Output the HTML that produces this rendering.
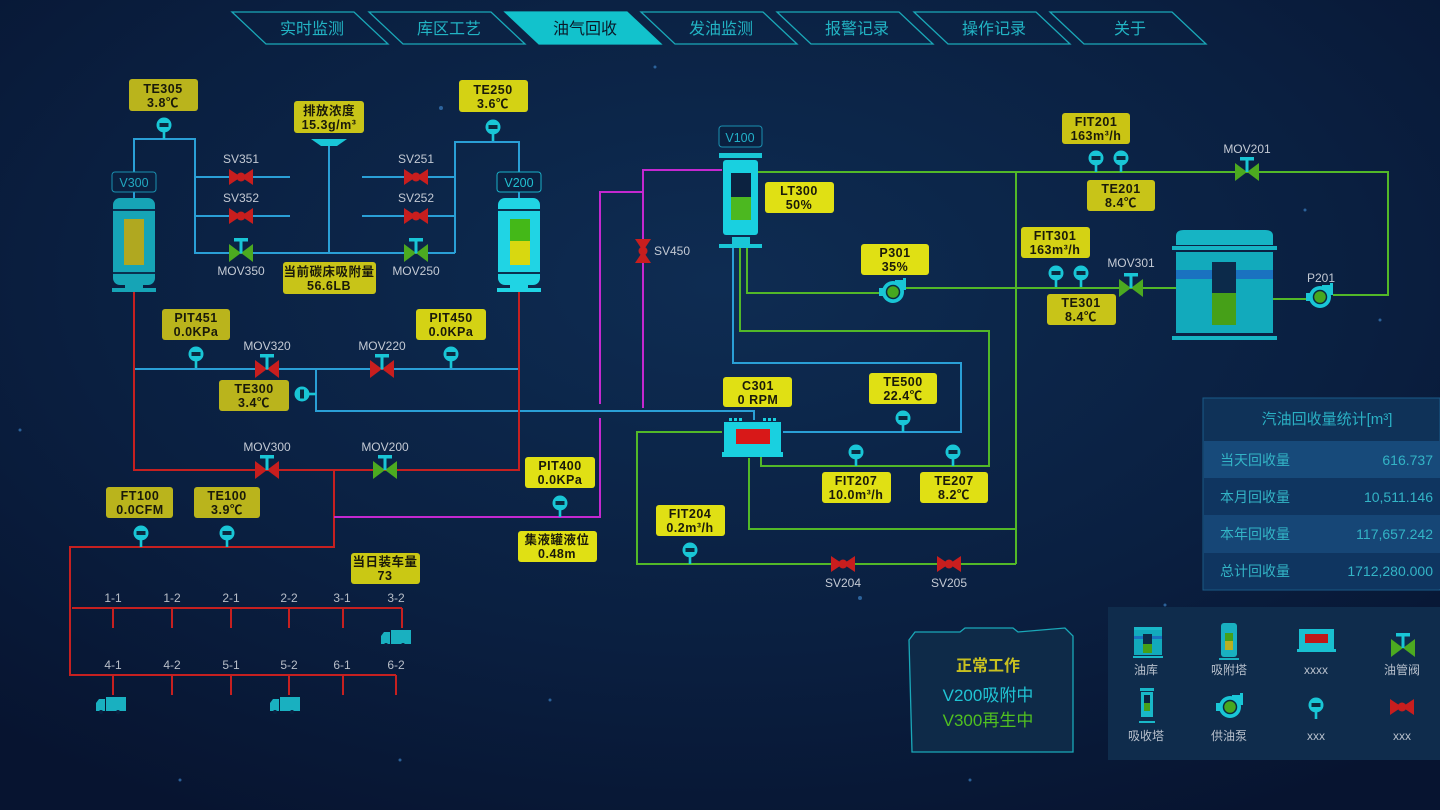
<!DOCTYPE html>
<html><head><meta charset="utf-8">
<style>
html,body{margin:0;padding:0;background:#081632;}
svg{display:block;}
text{font-family:"Liberation Sans","Noto Sans CJK SC",sans-serif;}
.lb{font-size:12.5px;font-weight:bold;fill:#1a1a0a;text-anchor:middle;letter-spacing:.5px}
.vl{font-size:12px;fill:#c4cad4;text-anchor:middle}
.nav{font-size:16px;fill:#22b4c4;text-anchor:middle}
.st{font-size:14px;fill:#33b4c6}
</style></head><body>
<svg width="1440" height="810" viewBox="0 0 1440 810" xmlns="http://www.w3.org/2000/svg">
<defs>
<radialGradient id="bg" cx="0.5" cy="0.35" r="0.75">
<stop offset="0" stop-color="#0e2c52"/><stop offset="0.6" stop-color="#0a1f40"/><stop offset="1" stop-color="#071430"/></radialGradient>
<symbol id="g" overflow="visible"><circle r="7.5" fill="#19c6d6"/><rect x="-4.5" y="-2" width="9" height="4" fill="#0a2a40"/><rect x="-1.3" y="6" width="2.6" height="8" fill="#19c6d6"/></symbol>
<symbol id="mr" overflow="visible"><polygon points="-12,-9 0,0 -12,9" fill="#c81e1e"/><polygon points="12,-9 0,0 12,9" fill="#c81e1e"/><rect x="-1.5" y="-13" width="3" height="13" fill="#19c6d6"/><rect x="-7" y="-15" width="14" height="3.5" fill="#19c6d6"/></symbol>
<symbol id="mg" overflow="visible"><polygon points="-12,-9 0,0 -12,9" fill="#4caa20"/><polygon points="12,-9 0,0 12,9" fill="#4caa20"/><rect x="-1.5" y="-13" width="3" height="13" fill="#19c6d6"/><rect x="-7" y="-15" width="14" height="3.5" fill="#19c6d6"/></symbol>
<symbol id="sv" overflow="visible"><polygon points="-12,-8 -3,-2 -3,2 -12,8" fill="#c81e1e"/><polygon points="12,-8 3,-2 3,2 12,8" fill="#c81e1e"/><circle r="4.5" fill="#c81e1e"/></symbol>
<symbol id="pump" overflow="visible"><rect x="2" y="-12" width="10" height="8" fill="#19c6d6"/><rect x="10" y="-14" width="3" height="12" fill="#19c6d6"/><circle r="11" fill="#19c6d6"/><rect x="-14" y="-4" width="4" height="8" fill="#19c6d6"/><circle r="6.5" fill="#46a820" stroke="#0a2a40" stroke-width="1.5"/></symbol>
<symbol id="truck" overflow="visible"><rect x="10" y="0" width="20" height="14" fill="#19b0c0"/><path d="M0,14 L0,6 L3,2 L9,2 L9,14 Z" fill="#19b0c0"/><circle cx="5" cy="15" r="2" fill="#0a2040"/><circle cx="22" cy="15" r="2" fill="#0a2040"/></symbol>
</defs>
<rect width="1440" height="810" fill="url(#bg)"/>
<g fill="#3a7fc0" opacity="0.7">
<circle cx="441" cy="108" r="2"/><circle cx="655" cy="67" r="1.5"/><circle cx="1380" cy="320" r="1.5"/><circle cx="1165" cy="605" r="1.5"/><circle cx="860" cy="598" r="2"/><circle cx="1183" cy="653" r="2.5"/><circle cx="400" cy="760" r="1.5"/><circle cx="970" cy="780" r="1.5"/><circle cx="550" cy="700" r="1.5"/><circle cx="1305" cy="210" r="1.5"/><circle cx="180" cy="780" r="1.5"/><circle cx="20" cy="430" r="1.5"/><circle cx="1000" cy="700" r="1.5"/></g>

<!-- NAV -->
<g stroke="#1aa8b8" stroke-width="1.3" fill="none">
<polygon points="232,12 354,12 388,44 266,44"/>
<polygon points="369,12 491,12 525,44 403,44"/>
<polygon points="505,12 627,12 661,44 539,44" fill="#12c2cc" stroke="#12c2cc"/>
<polygon points="641,12 763,12 797,44 675,44"/>
<polygon points="777,12 899,12 933,44 811,44"/>
<polygon points="914,12 1036,12 1070,44 948,44"/>
<polygon points="1050,12 1172,12 1206,44 1084,44"/>
</g>
<text class="nav" x="312" y="34">实时监测</text>
<text class="nav" x="449" y="34">库区工艺</text>
<text class="nav" x="585" y="34" style="fill:#0a1a2a">油气回收</text>
<text class="nav" x="721" y="34">发油监测</text>
<text class="nav" x="857" y="34">报警记录</text>
<text class="nav" x="994" y="34">操作记录</text>
<text class="nav" x="1130" y="34">关于</text>

<!-- BLUE PIPES -->
<g stroke="#2a9fd6" stroke-width="2" fill="none">
<polyline points="134,198 134,139 195,139 195,253 455,253"/>
<line x1="195" y1="177" x2="290" y2="177"/><line x1="195" y1="216" x2="290" y2="216"/>
<line x1="329" y1="146" x2="329" y2="253"/>
<line x1="362" y1="177" x2="455" y2="177"/><line x1="362" y1="216" x2="455" y2="216"/>
<polyline points="455,253 455,142 519,142 519,198"/>
<line x1="134" y1="369" x2="519" y2="369"/>
<polyline points="316,369 316,411 754,411 754,420"/>
<polyline points="733,248 733,363 961,363 961,432 783,432"/>
</g>
<!-- RED -->
<g stroke="#c62020" stroke-width="2" fill="none">
<polyline points="134,292 134,470 519,470 519,292"/>
<polyline points="334,470 334,547 70,547 70,675 396,675"/>
<line x1="72" y1="608" x2="402" y2="608"/>
<line x1="402" y1="608" x2="402" y2="628"/>
<line x1="113" y1="608" x2="113" y2="628"/><line x1="172" y1="608" x2="172" y2="628"/><line x1="231" y1="608" x2="231" y2="628"/><line x1="289" y1="608" x2="289" y2="628"/><line x1="343" y1="608" x2="343" y2="628"/>
<line x1="113" y1="675" x2="113" y2="695"/><line x1="172" y1="675" x2="172" y2="695"/><line x1="231" y1="675" x2="231" y2="695"/><line x1="289" y1="675" x2="289" y2="695"/><line x1="343" y1="675" x2="343" y2="695"/><line x1="396" y1="675" x2="396" y2="695"/>
</g>
<!-- MAGENTA -->
<g stroke="#c428d0" stroke-width="2" fill="none">
<polyline points="722,170 643,170 643,408"/>
<polyline points="643,192 600,192 600,404"/>
<polyline points="600,418 600,517 334,517"/>
</g>
<!-- GREEN -->
<g stroke="#52b828" stroke-width="2" fill="none">
<polyline points="758,172 1388,172 1388,295 1333,295"/>
<line x1="1016" y1="172" x2="1016" y2="564"/>
<polyline points="747,248 747,293 880,293"/>
<line x1="905" y1="288" x2="1176" y2="288"/>
<line x1="1273" y1="299" x2="1306" y2="299"/>
<polyline points="740,248 740,331 989,331 989,466 761,466 761,455"/>
<polyline points="749,458 749,529 1016,529"/>
<polyline points="722,432 637,432 637,564 1016,564"/>
</g>

<!-- V300 -->
<rect x="112" y="172" width="44" height="20" rx="3" fill="#0a2040" stroke="#1a90b0"/>
<text x="134" y="187" font-size="12.5" fill="#22a8c0" text-anchor="middle">V300</text>
<rect x="113" y="198" width="42" height="87" rx="7" fill="#16a4b6"/>
<rect x="113" y="209" width="42" height="2" fill="#0a3050"/><rect x="113" y="272" width="42" height="2" fill="#0a3050"/>
<rect x="124" y="219" width="20" height="46" fill="#b0a820"/>
<rect x="125" y="285" width="18" height="4" fill="#16a4b6"/><rect x="112" y="288" width="44" height="4" fill="#16a4b6"/>
<!-- V200 -->
<rect x="497" y="172" width="44" height="20" rx="3" fill="#0a2040" stroke="#1ab0c8"/>
<text x="519" y="187" font-size="12.5" fill="#22c0d0" text-anchor="middle">V200</text>
<rect x="498" y="198" width="42" height="87" rx="7" fill="#20d4e4"/>
<rect x="498" y="209" width="42" height="2" fill="#0a3050"/><rect x="498" y="272" width="42" height="2" fill="#0a3050"/>
<rect x="510" y="219" width="20" height="22" fill="#44b818"/><rect x="510" y="241" width="20" height="24" fill="#d8d810"/>
<rect x="510" y="285" width="18" height="4" fill="#20d4e4"/><rect x="497" y="288" width="44" height="4" fill="#20d4e4"/>
<!-- funnel -->
<polygon points="311,139 347,139 337,146 321,146" fill="#19c6d6"/>

<!-- V100 -->
<rect x="719" y="126" width="43" height="21" rx="3" fill="#0a2040" stroke="#1a90b0"/>
<text x="740" y="142" font-size="12.5" fill="#22b0c8" text-anchor="middle">V100</text>
<rect x="719" y="153" width="43" height="5" fill="#19c6d6"/>
<rect x="723" y="160" width="35" height="75" rx="3" fill="#19d0e0"/>
<rect x="731" y="173" width="20" height="47" fill="#0c2240"/><rect x="731" y="197" width="20" height="23" fill="#4cb820"/>
<rect x="732" y="237" width="18" height="8" fill="#19c6d6"/><rect x="719" y="244" width="43" height="4" fill="#19c6d6"/>

<!-- C301 -->
<g fill="#19d0e0">
<rect x="729" y="418" width="3" height="3"/><rect x="734" y="418" width="3" height="3"/><rect x="739" y="418" width="3" height="3"/>
<rect x="763" y="418" width="3" height="3"/><rect x="768" y="418" width="3" height="3"/><rect x="773" y="418" width="3" height="3"/>
<rect x="724" y="422" width="57" height="30"/><rect x="722" y="452" width="61" height="5"/></g>
<rect x="736" y="429" width="34" height="15" fill="#d81818"/>

<!-- Right tank -->
<path d="M1176,245 L1176,236 Q1176,230 1184,230 L1265,230 Q1273,230 1273,236 L1273,245 Z" fill="#16b4c4"/>
<rect x="1172" y="246" width="105" height="4" fill="#16b4c4"/>
<rect x="1176" y="252" width="97" height="81" fill="#12aabc"/>
<rect x="1176" y="270" width="97" height="9" fill="#1a72c0"/>
<rect x="1212" y="262" width="24" height="63" fill="#0c2a4a"/><rect x="1212" y="293" width="24" height="32" fill="#46a018"/>
<rect x="1172" y="336" width="105" height="4" fill="#16b4c4"/>

<!-- pumps -->
<use href="#pump" x="893" y="292"/>
<use href="#pump" x="1320" y="297"/>
<text class="vl" x="1321" y="282">P201</text>

<!-- valves -->
<use href="#sv" x="241" y="177"/><use href="#sv" x="241" y="216"/>
<use href="#sv" x="416" y="177"/><use href="#sv" x="416" y="216"/>
<use href="#mg" x="241" y="253"/><use href="#mg" x="416" y="253"/>
<use href="#mr" x="267" y="369"/><use href="#mr" x="382" y="369"/>
<use href="#mr" x="267" y="470"/><use href="#mg" x="385" y="470"/>
<use href="#sv" x="843" y="564"/><use href="#sv" x="949" y="564"/>
<use href="#mg" x="1247" y="172"/><use href="#mg" x="1131" y="288"/>
<g transform="translate(643,251) rotate(90)"><use href="#sv"/></g>
<text class="vl" x="241" y="163">SV351</text><text class="vl" x="241" y="202">SV352</text>
<text class="vl" x="416" y="163">SV251</text><text class="vl" x="416" y="202">SV252</text>
<text class="vl" x="241" y="275">MOV350</text><text class="vl" x="416" y="275">MOV250</text>
<text class="vl" x="267" y="350">MOV320</text><text class="vl" x="382" y="350">MOV220</text>
<text class="vl" x="267" y="451">MOV300</text><text class="vl" x="385" y="451">MOV200</text>
<text class="vl" x="672" y="255">SV450</text>
<text class="vl" x="843" y="587">SV204</text><text class="vl" x="949" y="587">SV205</text>
<text class="vl" x="1247" y="153">MOV201</text><text class="vl" x="1131" y="267">MOV301</text>

<!-- gauges -->
<use href="#g" x="164" y="125"/><use href="#g" x="493" y="127"/>
<use href="#g" x="196" y="354"/><use href="#g" x="451" y="354"/>
<g transform="translate(302,394) rotate(-90)"><use href="#g"/></g>
<use href="#g" x="141" y="533"/><use href="#g" x="227" y="533"/>
<use href="#g" x="560" y="503"/>
<use href="#g" x="903" y="418"/><use href="#g" x="856" y="452"/><use href="#g" x="953" y="452"/>
<use href="#g" x="690" y="550"/>
<use href="#g" x="1096" y="158"/><use href="#g" x="1121" y="158"/>
<use href="#g" x="1056" y="273"/><use href="#g" x="1081" y="273"/>

<!-- trucks -->
<use href="#truck" x="381" y="630"/><use href="#truck" x="96" y="697"/><use href="#truck" x="270" y="697"/>

<!-- rack labels -->
<g class="vl" style="fill:#b8bec8">
<text x="113" y="602">1-1</text><text x="172" y="602">1-2</text><text x="231" y="602">2-1</text><text x="289" y="602">2-2</text><text x="342" y="602">3-1</text><text x="396" y="602">3-2</text>
<text x="113" y="669">4-1</text><text x="172" y="669">4-2</text><text x="231" y="669">5-1</text><text x="289" y="669">5-2</text><text x="342" y="669">6-1</text><text x="396" y="669">6-2</text></g>

<!-- LABEL BOXES -->
<g>
<rect x="129" y="79" width="69" height="32" rx="3" fill="#bab41c"/><text class="lb" x="163" y="93">TE305</text><text class="lb" x="163" y="107">3.8℃</text>
<rect x="459" y="80" width="69" height="32" rx="3" fill="#d4d214"/><text class="lb" x="493" y="94">TE250</text><text class="lb" x="493" y="108">3.6℃</text>
<rect x="294" y="101" width="70" height="32" rx="3" fill="#c8c418"/><text class="lb" x="329" y="115">排放浓度</text><text class="lb" x="329" y="129">15.3g/m³</text>
<rect x="283" y="262" width="93" height="32" rx="3" fill="#c8c418"/><text class="lb" x="329" y="276">当前碳床吸附量</text><text class="lb" x="329" y="290">56.6LB</text>
<rect x="162" y="309" width="68" height="31" rx="3" fill="#bab41c"/><text class="lb" x="196" y="322">PIT451</text><text class="lb" x="196" y="336">0.0KPa</text>
<rect x="416" y="309" width="70" height="31" rx="3" fill="#d4d214"/><text class="lb" x="451" y="322">PIT450</text><text class="lb" x="451" y="336">0.0KPa</text>
<rect x="219" y="380" width="70" height="31" rx="3" fill="#bab41c"/><text class="lb" x="254" y="393">TE300</text><text class="lb" x="254" y="407">3.4℃</text>
<rect x="106" y="487" width="67" height="31" rx="3" fill="#bab41c"/><text class="lb" x="140" y="500">FT100</text><text class="lb" x="140" y="514">0.0CFM</text>
<rect x="194" y="487" width="66" height="31" rx="3" fill="#bab41c"/><text class="lb" x="227" y="500">TE100</text><text class="lb" x="227" y="514">3.9℃</text>
<rect x="351" y="553" width="69" height="31" rx="3" fill="#cac814"/><text class="lb" x="385" y="566">当日装车量</text><text class="lb" x="385" y="580">73</text>
<rect x="525" y="457" width="70" height="31" rx="3" fill="#e0e014"/><text class="lb" x="560" y="470">PIT400</text><text class="lb" x="560" y="484">0.0KPa</text>
<rect x="518" y="531" width="79" height="31" rx="3" fill="#e0e014"/><text class="lb" x="557" y="544">集液罐液位</text><text class="lb" x="557" y="558">0.48m</text>
<rect x="765" y="182" width="69" height="31" rx="3" fill="#e0e014"/><text class="lb" x="799" y="195">LT300</text><text class="lb" x="799" y="209">50%</text>
<rect x="861" y="244" width="68" height="31" rx="3" fill="#e0e014"/><text class="lb" x="895" y="257">P301</text><text class="lb" x="895" y="271">35%</text>
<rect x="723" y="377" width="69" height="30" rx="3" fill="#e0e014"/><text class="lb" x="758" y="390">C301</text><text class="lb" x="758" y="404">0 RPM</text>
<rect x="869" y="373" width="68" height="31" rx="3" fill="#e0e014"/><text class="lb" x="903" y="386">TE500</text><text class="lb" x="903" y="400">22.4℃</text>
<rect x="822" y="472" width="69" height="31" rx="3" fill="#e0e014"/><text class="lb" x="856" y="485">FIT207</text><text class="lb" x="856" y="499">10.0m³/h</text>
<rect x="920" y="472" width="68" height="31" rx="3" fill="#e0e014"/><text class="lb" x="954" y="485">TE207</text><text class="lb" x="954" y="499">8.2℃</text>
<rect x="656" y="505" width="69" height="31" rx="3" fill="#e0e014"/><text class="lb" x="690" y="518">FIT204</text><text class="lb" x="690" y="532">0.2m³/h</text>
<rect x="1062" y="113" width="68" height="31" rx="3" fill="#cac414"/><text class="lb" x="1096" y="126">FIT201</text><text class="lb" x="1096" y="140">163m³/h</text>
<rect x="1087" y="180" width="68" height="31" rx="3" fill="#c8c418"/><text class="lb" x="1121" y="193">TE201</text><text class="lb" x="1121" y="207">8.4℃</text>
<rect x="1021" y="227" width="69" height="31" rx="3" fill="#d4d214"/><text class="lb" x="1055" y="240">FIT301</text><text class="lb" x="1055" y="254">163m³/h</text>
<rect x="1047" y="294" width="69" height="31" rx="3" fill="#c8c418"/><text class="lb" x="1081" y="307">TE301</text><text class="lb" x="1081" y="321">8.4℃</text>
</g>

<!-- STATUS BOX -->
<path d="M915,632 L960,632 L965,628 L1013,628 L1018,632 L1065,628 L1073,636 L1073,752 L912,752 L909,640 Z" fill="#0e2a48" stroke="#1aa8b8" stroke-width="1.3"/>
<text x="988" y="671" font-size="16" font-weight="bold" fill="#c8c020" text-anchor="middle">正常工作</text>
<text x="988" y="701" font-size="17" fill="#20c4d4" text-anchor="middle">V200吸附中</text>
<text x="988" y="726" font-size="17" fill="#50c020" text-anchor="middle">V300再生中</text>

<!-- STATS PANEL -->
<rect x="1203" y="398" width="237" height="192" fill="#0f3258" stroke="#1a5a88"/>
<rect x="1204" y="441" width="236" height="37" fill="#174a7a"/>
<rect x="1204" y="478" width="236" height="37" fill="#0f3560"/>
<rect x="1204" y="515" width="236" height="38" fill="#164676"/>
<rect x="1204" y="553" width="236" height="36" fill="#0f3560"/>
<text x="1327" y="424" font-size="15" fill="#2ab0c4" text-anchor="middle">汽油回收量统计[m³]</text>
<text class="st" x="1220" y="465">当天回收量</text><text class="st" x="1433" y="465" text-anchor="end" font-size="15">616.737</text>
<text class="st" x="1220" y="502">本月回收量</text><text class="st" x="1433" y="502" text-anchor="end" font-size="15">10,511.146</text>
<text class="st" x="1220" y="539">本年回收量</text><text class="st" x="1433" y="539" text-anchor="end" font-size="15">117,657.242</text>
<text class="st" x="1220" y="576">总计回收量</text><text class="st" x="1433" y="576" text-anchor="end" font-size="15">1712,280.000</text>

<!-- LEGEND -->
<rect x="1108" y="607" width="332" height="153" fill="#0f2c4c"/>
<g>
<rect x="1134" y="627" width="28" height="4" fill="#19b8c8"/><rect x="1134" y="630" width="28" height="25" fill="#12aabc"/><rect x="1134" y="636" width="28" height="3" fill="#1a72c0"/><rect x="1143" y="634" width="9" height="19" fill="#0c2a4a"/><rect x="1143" y="644" width="9" height="9" fill="#46a018"/><rect x="1133" y="656" width="30" height="2" fill="#19b8c8"/>
<rect x="1221" y="623" width="16" height="34" rx="3" fill="#19b0c0"/><rect x="1225" y="633" width="8" height="8" fill="#46a018"/><rect x="1225" y="641" width="8" height="9" fill="#b8b020"/><rect x="1219" y="658" width="20" height="2" fill="#19b0c0"/>
<rect x="1299" y="629" width="35" height="20" fill="#19c0d0"/><rect x="1305" y="634" width="23" height="9" fill="#c01818"/><rect x="1297" y="649" width="39" height="3" fill="#19c0d0"/>
<use href="#mg" x="1403" y="648"/>
<rect x="1140" y="688" width="14" height="3" fill="#19b8c8"/><rect x="1141" y="692" width="12" height="25" fill="#19b8c8"/><rect x="1144" y="695" width="6" height="16" fill="#0c2240"/><rect x="1144" y="703" width="6" height="8" fill="#46a018"/><rect x="1139" y="721" width="16" height="2" fill="#19b8c8"/>
<use href="#pump" x="1230" y="707"/>
<use href="#g" x="1316" y="705"/>
<use href="#sv" x="1402" y="707"/>
</g>
<g font-size="12" fill="#b8c0cc" text-anchor="middle">
<text x="1146" y="674">油库</text><text x="1229" y="674">吸附塔</text><text x="1316" y="674">xxxx</text><text x="1402" y="674">油管阀</text>
<text x="1146" y="740">吸收塔</text><text x="1229" y="740">供油泵</text><text x="1316" y="740">xxx</text><text x="1402" y="740">xxx</text></g>
</svg>
</body></html>
